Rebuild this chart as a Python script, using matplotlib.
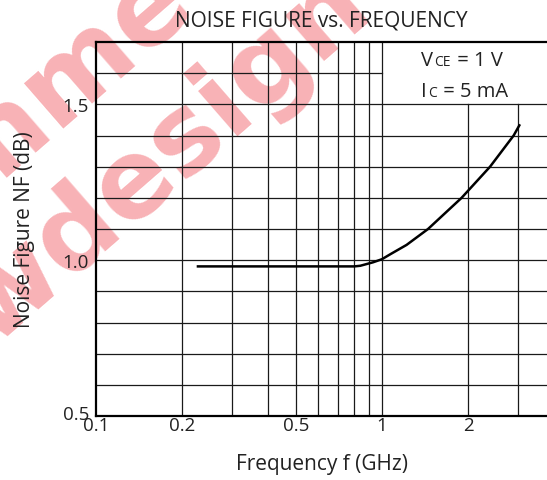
import matplotlib
matplotlib.use("Agg")
import matplotlib.pyplot as plt
import matplotlib.transforms as mtransforms
from matplotlib.offsetbox import AnchoredOffsetbox, HPacker, VPacker, TextArea

plt.rcParams["font.family"] = ["Open Sans", "DejaVu Sans"]

# Noise figure curve
freq_ghz = [0.225, 0.5, 0.8, 0.84, 0.93, 1.0, 1.07, 1.22, 1.45, 1.9, 2.39, 2.89, 3.04]
nf_db = [0.98, 0.98, 0.98, 0.982, 0.993, 1.003, 1.019, 1.049, 1.1, 1.2, 1.3, 1.4, 1.436]

x_ticks = [0.1, 0.2, 0.5, 1, 2]
x_tick_labels = ["0.1", "0.2", "0.5", "1", "2"]
y_ticks = [0.5, 1.0, 1.5]
y_tick_labels = ["0.5", "1.0", "1.5"]

x_grid_low = [0.2, 0.3, 0.4, 0.5, 0.6, 0.7, 0.8, 0.9, 1.0]
x_grid_high = [2, 3]
y_grid = [0.6, 0.7, 0.8, 0.9, 1.0, 1.1, 1.2, 1.3, 1.4, 1.5]
y_grid_short = [1.6]

X_MIN, X_MAX = 0.1, 3.78
Y_MIN, Y_MAX = 0.5, 1.7

TXT = "#222222"
FS = 13.5
FS_LABEL = 15

fig = plt.figure(figsize=(5.47, 4.81), dpi=100)

# watermark, behind everything
wm = dict(fontsize=78, fontweight="bold", color="#f8b2b6", rotation=41,
          ha="center", va="center", zorder=-5, family="DejaVu Sans")
fig.text(0.115, 0.830, "mme", **wm)
fig.text(0.300, 0.672, "wdesign", **wm)

ax = fig.add_axes([96 / 547, 1 - 417 / 481, 1 - 96 / 547, (417 - 43) / 481])
ax.patch.set_alpha(0)
ax.set_xscale("log")
ax.set_xlim(X_MIN, X_MAX)
ax.set_ylim(Y_MIN, Y_MAX)

grid_kw = dict(color="#1a1a1a", lw=0.9, zorder=1)
for x in x_grid_low:
    ax.axvline(x, **grid_kw)
frac_15 = (1.5 - Y_MIN) / (Y_MAX - Y_MIN)
for x in x_grid_high:
    ax.axvline(x, ymin=0, ymax=frac_15, **grid_kw)
for y in y_grid:
    ax.axhline(y, **grid_kw)
for y in y_grid_short:
    ax.plot([X_MIN, 1.0], [y, y], **grid_kw)

ax.plot(freq_ghz, nf_db, color="black", lw=1.8, zorder=3,
        solid_capstyle="butt", solid_joinstyle="round")

for side in ("left", "bottom", "top"):
    ax.spines[side].set_linewidth(1.6)
    ax.spines[side].set_color("black")
ax.spines["right"].set_visible(False)

ax.set_xticks(x_ticks)
ax.set_xticklabels(x_tick_labels)
ax.xaxis.set_minor_locator(matplotlib.ticker.NullLocator())
ax.set_yticks(y_ticks)
ax.set_yticklabels(y_tick_labels)
ax.tick_params(length=0, labelsize=FS, colors=TXT, pad=0)
ax.tick_params(axis="y", pad=5)
# bottom y label sits a little above the axis line, as in the datasheet
lift = mtransforms.ScaledTranslation(0, 4 / 100, fig.dpi_scale_trans)
ylab0 = ax.get_yticklabels()[0]
ylab0.set_transform(ylab0.get_transform() + lift)

ax.set_xlabel("Frequency f (GHz)", fontsize=FS_LABEL, color=TXT, labelpad=14)
ax.set_ylabel("Noise Figure NF (dB)", fontsize=FS_LABEL, color=TXT, labelpad=20)
ax.set_title("NOISE FIGURE vs. FREQUENCY", fontsize=FS_LABEL, color=TXT, pad=12,
             x=(321 - 96) / (547 - 96))

# condition box with small-cap subscripts
big, small = 14.5, 10
def cond_line(main, sub, rest):
    return HPacker(children=[
        TextArea(main, textprops=dict(fontsize=big, color=TXT)),
        TextArea(sub, textprops=dict(fontsize=small, color=TXT)),
        TextArea(rest, textprops=dict(fontsize=big, color=TXT)),
    ], align="baseline", pad=0, sep=1)

box = VPacker(children=[cond_line("V", "CE", " = 1 V"), cond_line("I", "C", " = 5 mA")],
              align="left", pad=0, sep=8)
anch = AnchoredOffsetbox(loc="upper left", child=box, frameon=False,
                         bbox_to_anchor=(421 / 547, 1 - 51 / 481),
                         bbox_transform=fig.transFigure, borderpad=0, pad=0)
ax.add_artist(anch)

fig.savefig("out.png", dpi=100)
